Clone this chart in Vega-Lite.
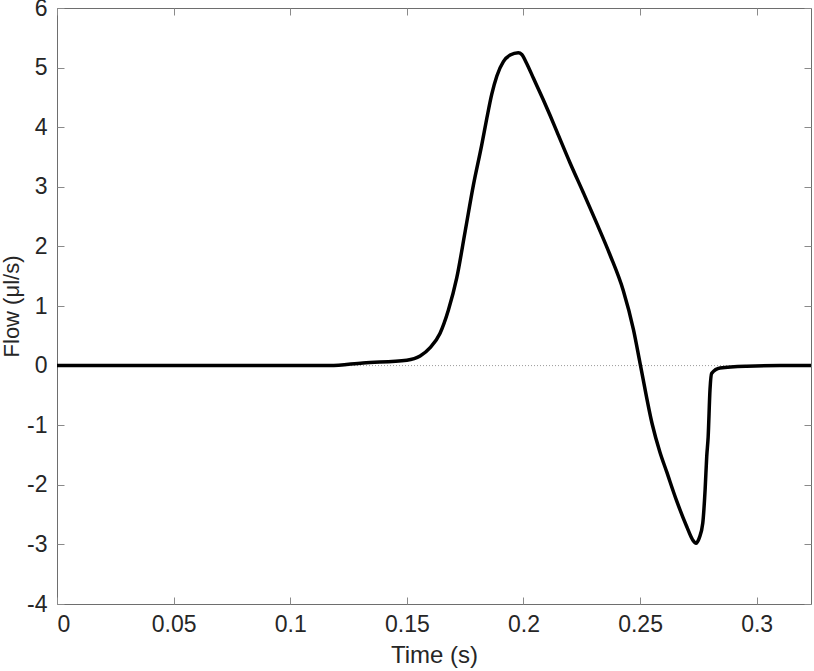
{
  "$schema": "https://vega.github.io/schema/vega-lite/v6.json",
  "width": 754,
  "height": 596,
  "autosize": {"type": "none"},
  "padding": {"left": 57, "top": 8, "right": 3, "bottom": 67},
  "background": "white",
  "config": {
    "view": {"stroke": "#6e6e6e", "strokeWidth": 1},
    "axis": {
      "grid": false,
      "domain": false,
      "tickColor": "#8a8a8a",
      "tickSize": -7,
      "labelFont": "Liberation Sans",
      "labelFontSize": 23,
      "labelColor": "#262626",
      "labelExpr": "replace(datum.label, '\u2212', '-')",
      "titleFont": "Liberation Sans",
      "titleFontWeight": "normal",
      "titleColor": "#262626"
    }
  },
  "datasets": {
    "flow": [
      {"t": 0.0, "f": 0.0},
      {"t": 0.05, "f": 0.0},
      {"t": 0.1, "f": 0.0},
      {"t": 0.117, "f": 0.0},
      {"t": 0.1312, "f": 0.045},
      {"t": 0.15, "f": 0.09},
      {"t": 0.1557, "f": 0.16},
      {"t": 0.16, "f": 0.3},
      {"t": 0.1642, "f": 0.54},
      {"t": 0.1678, "f": 0.93},
      {"t": 0.1714, "f": 1.47},
      {"t": 0.175, "f": 2.25},
      {"t": 0.1785, "f": 3.02},
      {"t": 0.1821, "f": 3.7},
      {"t": 0.1843, "f": 4.15},
      {"t": 0.1864, "f": 4.55},
      {"t": 0.1886, "f": 4.86},
      {"t": 0.1914, "f": 5.1},
      {"t": 0.1943, "f": 5.21},
      {"t": 0.1978, "f": 5.25},
      {"t": 0.1993, "f": 5.22},
      {"t": 0.2014, "f": 5.07},
      {"t": 0.2043, "f": 4.82},
      {"t": 0.2085, "f": 4.46},
      {"t": 0.2114, "f": 4.2},
      {"t": 0.2143, "f": 3.93},
      {"t": 0.22, "f": 3.4},
      {"t": 0.2257, "f": 2.9},
      {"t": 0.2314, "f": 2.39},
      {"t": 0.2371, "f": 1.86},
      {"t": 0.2428, "f": 1.26},
      {"t": 0.2472, "f": 0.6},
      {"t": 0.2502, "f": 0.0},
      {"t": 0.2552, "f": -0.98},
      {"t": 0.2585, "f": -1.45},
      {"t": 0.2614, "f": -1.78},
      {"t": 0.2657, "f": -2.27},
      {"t": 0.27, "f": -2.7},
      {"t": 0.2725, "f": -2.92},
      {"t": 0.274, "f": -2.98},
      {"t": 0.2754, "f": -2.89},
      {"t": 0.2769, "f": -2.64},
      {"t": 0.2779, "f": -2.08},
      {"t": 0.2786, "f": -1.52},
      {"t": 0.2792, "f": -1.2},
      {"t": 0.28, "f": -0.4},
      {"t": 0.2807, "f": -0.13},
      {"t": 0.2843, "f": -0.04},
      {"t": 0.2957, "f": -0.01},
      {"t": 0.31, "f": 0.0},
      {"t": 0.3233, "f": 0.0}
    ],
    "zero": [{"z": 0}]
  },
  "layer": [
    {
      "data": {"name": "zero"},
      "mark": {"type": "rule", "color": "#9a9a9a", "strokeWidth": 1, "strokeDash": [1, 2]},
      "encoding": {
        "y": {"field": "z", "type": "quantitative", "scale": {"domain": [-4, 6], "nice": false},
          "axis": {"orient": "right", "labels": false, "title": null, "values": [-4,-3,-2,-1,0,1,2,3,4,5,6]}}
      }
    },
    {
      "data": {"name": "flow"},
      "mark": {"type": "line", "color": "black", "strokeWidth": 3.5, "interpolate": "monotone", "clip": true},
      "encoding": {
        "x": {"field": "t", "type": "quantitative", "scale": {"domain": [0, 0.3233], "nice": false, "zero": false},
          "axis": {"title": "Time (s)", "titleFontSize": 24, "values": [0, 0.05, 0.1, 0.15, 0.2, 0.25, 0.3], "labelPadding": 16, "titlePadding": 7, "format": "~g"}},
        "y": {"field": "f", "type": "quantitative", "scale": {"domain": [-4, 6], "nice": false},
          "axis": {"title": "Flow (μl/s)", "titleFontSize": 22, "values": [-4,-3,-2,-1,0,1,2,3,4,5,6], "labelPadding": 17, "titlePadding": 3, "format": "~g"}}
      }
    },
    {
      "data": {"name": "zero"},
      "mark": {"type": "rule", "opacity": 0},
      "encoding": {
        "x": {"datum": 0, "type": "quantitative",
          "axis": {"orient": "top", "labels": false, "title": null, "values": [0, 0.05, 0.1, 0.15, 0.2, 0.25, 0.3]}}
      }
    }
  ],
  "resolve": {"axis": {"x": "independent", "y": "independent"}}
}
